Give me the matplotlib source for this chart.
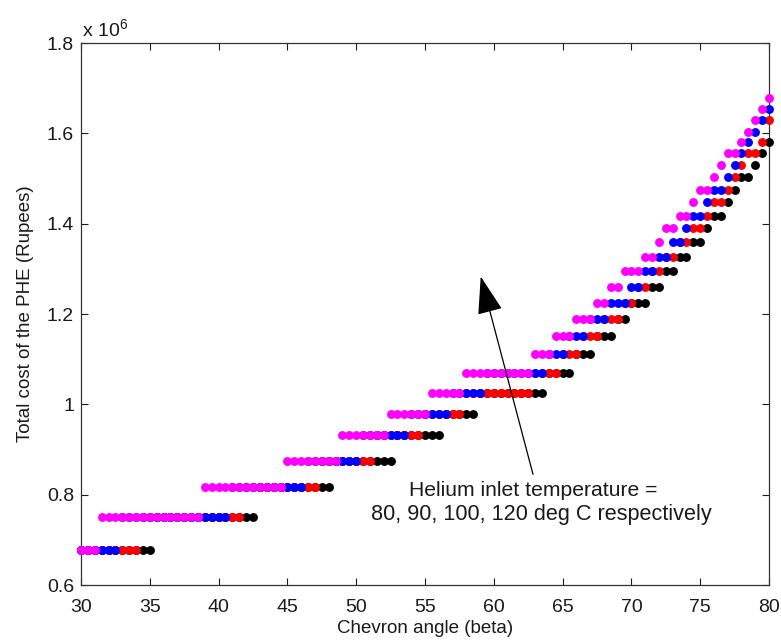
import numpy as np
import matplotlib
matplotlib.use('Agg')
import matplotlib.pyplot as plt

plt.rcParams['font.family'] = ['Liberation Sans', 'DejaVu Sans']
plt.rcParams['mathtext.fontset'] = 'custom'
plt.rcParams['mathtext.rm'] = 'Liberation Sans'
plt.rcParams['mathtext.it'] = 'Liberation Sans'

# chevron angles sampled every 0.5 deg
beta = np.arange(30, 80.5, 0.5)

# discrete cost levels seen in the plot (x 10^6 Rupees), lowest first
levels = [0.678, 0.751, 0.816, 0.875, 0.931, 0.979, 1.026, 1.070, 1.112, 1.152,
          1.190, 1.225, 1.259, 1.296, 1.327, 1.359, 1.391, 1.418, 1.447, 1.475,
          1.503, 1.530, 1.556, 1.581, 1.604, 1.630, 1.654, 1.678]

# beta at which each series moves up to the next cost level
steps_80 = [30, 31.5, 39, 45, 49, 52.5, 55.5, 58, 63, 64.5, 66, 67.5, 68.5, 69.5,
            71, 72, 72.5, 73.5, 74.5, 75, 76, 76.5, 77, 78, 78.5, 79, 79.5, 80]
steps_90 = [30, 33, 41, 46.5, 50.5, 54, 57, 59.5, 64, 65.5, 67, 68.5, 70, 71,
            72, 73, 74, 74.5, 75.5, 76, 77, 77.5, 78, 78.5, 79, 79.5, 80]
# the 100 deg C series jumps two levels at 80
steps_100 = [30, 34.5, 42, 47.5, 51.5, 55, 58, 63, 65, 66.5, 68, 69.5, 70.5, 71.5,
             72.5, 73.5, 74.5, 75.5, 76, 77, 77.5, 78, 78.5, 79.5, 80, 80]
steps_120 = [30, 35.5, 43, 48.5, 53, 56.5, 59, 64, 66, 67.5, 69, 70, 71.5, 72.5,
             73.5, 74.5, 75.5, 76, 77, 77.5, 78, 79, 79.5, 80]

series = [(steps_120, 'black'), (steps_100, 'red'), (steps_90, 'blue'), (steps_80, 'magenta')]

fig = plt.figure(figsize=(7.81, 6.42), dpi=100)
ax = fig.add_axes([81/781, 1-585/642, 688/781, 542/642])

for steps, col in series:
    idx = np.searchsorted(steps, beta, side='right') - 1
    cost = np.array(levels)[idx]
    ax.plot(beta, cost, 'o', color=col, markersize=6.4, markeredgewidth=0,
            clip_on=False, zorder=3)

ax.set_xlim(30, 80)
ax.set_ylim(0.6, 1.8)
ax.set_xticks(np.arange(30, 81, 5))
ax.set_yticks([0.6, 0.8, 1.0, 1.2, 1.4, 1.6, 1.8])
ax.set_yticklabels(['0.6', '0.8', '1', '1.2', '1.4', '1.6', '1.8'])
ax.tick_params(direction='in', length=5, width=0.8, top=True, right=True,
               labelsize=14, colors='#1a1a1a')
ax.tick_params(axis='x', pad=10)
ax.tick_params(axis='y', pad=5)
for s in ax.spines.values():
    s.set_linewidth(0.9)
    s.set_color('#333333')

ax.set_xlabel('Chevron angle (beta)', fontsize=13.5, color='#1a1a1a', labelpad=3)
ax.set_ylabel('Total cost of the PHE (Rupees)', fontsize=13.5, color='#1a1a1a', labelpad=9)
ax.text(0.002, 1.006, 'x 10$^{6}$', transform=ax.transAxes, fontsize=14,
        color='#1a1a1a', ha='left', va='bottom')

ax.annotate('', xy=(59.05, 1.283), xytext=(62.85, 0.845),
            arrowprops=dict(arrowstyle='-|>,head_length=1.2,head_width=0.4',
                            color='black', lw=0.9, mutation_scale=20,
                            shrinkA=0, shrinkB=0))
ax.text(62.85, 0.810, 'Helium inlet temperature =', fontsize=15.2,
        ha='center', va='center', color='#1a1a1a')
ax.text(63.45, 0.755, '80, 90, 100, 120 deg C respectively', fontsize=15.6,
        ha='center', va='center', color='#1a1a1a')

fig.savefig('out.png', dpi=100)
